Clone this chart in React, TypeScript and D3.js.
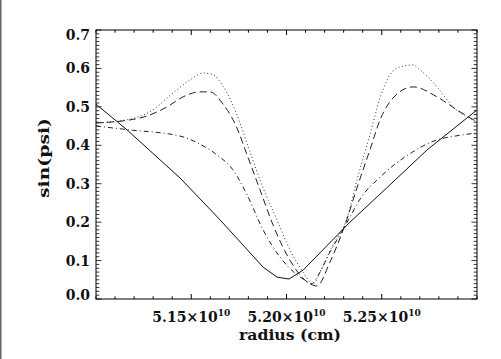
import * as d3 from "d3";

// radius in units of 1e10 cm, sin(psi) values
const solidR = [5.1, 5.1163, 5.1441, 5.1651, 5.1877, 5.195, 5.2013, 5.2087, 5.2333, 5.2543, 5.2738, 5.3];
const solidV = [0.507, 0.44, 0.315, 0.206, 0.083, 0.057, 0.052, 0.075, 0.2, 0.297, 0.388, 0.492];

const dottedR = [5.1, 5.1178, 5.1283, 5.1404, 5.1493, 5.1562, 5.1609, 5.1667, 5.174, 5.1808, 5.1877, 5.195, 5.2018, 5.2087, 5.2139,
  5.2192, 5.2244, 5.2318, 5.237, 5.2438, 5.2491, 5.2543, 5.2596, 5.2664, 5.2701, 5.279, 5.2874, 5.3];
const dottedV = [0.458, 0.468, 0.487, 0.536, 0.57, 0.588, 0.585, 0.554, 0.479, 0.383, 0.289, 0.206, 0.128, 0.07, 0.039,
  0.088, 0.141, 0.211, 0.31, 0.427, 0.523, 0.583, 0.604, 0.609, 0.596, 0.552, 0.5, 0.461];

const dashedR = [5.1, 5.1231, 5.1373, 5.1457, 5.1546, 5.1598, 5.1667, 5.174, 5.1793, 5.1861, 5.1929, 5.2018, 5.2097, 5.216,
  5.2228, 5.2307, 5.2375, 5.2438, 5.2491, 5.2559, 5.2664, 5.279, 5.2895, 5.3];
const dashedV = [0.458, 0.471, 0.5, 0.526, 0.539, 0.539, 0.507, 0.445, 0.375, 0.284, 0.193, 0.101, 0.049, 0.034,
  0.096, 0.193, 0.297, 0.388, 0.466, 0.523, 0.552, 0.526, 0.492, 0.461];

const dashDotR = [5.1, 5.1178, 5.1441, 5.1546, 5.1635, 5.1719, 5.1793, 5.1877, 5.1966, 5.205, 5.2097, 5.2129,
  5.2176, 5.2228, 5.2281, 5.2333, 5.2386, 5.2491, 5.2638, 5.279, 5.2885, 5.3];
const dashDotV = [0.45, 0.44, 0.424, 0.403, 0.375, 0.336, 0.271, 0.18, 0.109, 0.065, 0.049, 0.039,
  0.07, 0.122, 0.167, 0.213, 0.26, 0.317, 0.375, 0.414, 0.424, 0.432];

const xMajorTicks = [5.15, 5.2, 5.25];
const yTicks = [0, 0.1, 0.2, 0.3, 0.4, 0.5, 0.6, 0.7];

const W = 501;
const H = 359;
const font = "'DejaVu Serif', serif";

export default function App() {
  const x = d3.scaleLinear().domain([5.1, 5.3]).range([96, 477]);
  const y = d3.scaleLinear().domain([0, 0.7]).range([299, 30]);

  const smooth = (rs: number[], vs: number[]) =>
    d3
      .line<number>()
      .x((_, i) => x(rs[i]))
      .y((v) => y(v))
      .curve(d3.curveMonotoneX)(vs) as string;

  const solidPath = d3
    .line<number>()
    .x((_, i) => x(solidR[i]))
    .y((v) => y(v))(solidV) as string;

  const xMinor = d3.range(0, 21).map((i) => 5.1 + i * 0.01);
  const yMinor = d3.range(0, 71).map((i) => i * 0.01);
  const [x0, x1] = x.range();
  const [y0, y1] = y.range();

  return (
    <svg width={W} height={H} style={{ position: "absolute", left: 0, top: 0, background: "#fff" }}>
      <rect x={0} y={0} width={1.5} height={H} fill="#666" />

      {/* frame */}
      <rect x={x0} y={y1} width={x1 - x0} height={y0 - y1} fill="none" stroke="#000" strokeWidth={1} />

      {/* x ticks, bottom and top */}
      {xMinor.map((t, i) => {
        const major = xMajorTicks.some((m) => Math.abs(m - t) < 1e-6);
        const len = major ? 5 : 2.7;
        const px = x(t);
        return (
          <g key={"xt" + i} stroke="#000" strokeWidth={1}>
            <line x1={px} x2={px} y1={y0} y2={y0 - len} />
            <line x1={px} x2={px} y1={y1} y2={y1 + len} />
          </g>
        );
      })}

      {/* y ticks, left and right */}
      {yMinor.map((t, i) => {
        const major = i % 10 === 0;
        const len = major ? 5.5 : 3.3;
        const py = y(t);
        return (
          <g key={"yt" + i} stroke="#000" strokeWidth={0.8}>
            <line x1={x0} x2={x0 + len} y1={py} y2={py} />
            <line x1={x1} x2={x1 - len} y1={py} y2={py} />
          </g>
        );
      })}

      {/* y tick labels */}
      {yTicks.map((t, i) => {
        const nudge = i === 0 ? -4 : i === yTicks.length - 1 ? 4.5 : 0;
        return (
          <text
            key={"yl" + i}
            x={90}
            y={y(t) + nudge}
            dy="0.36em"
            textAnchor="end"
            fontFamily={font}
            fontWeight="bold"
            fontSize={14}
            fill="#111"
          >
            {t.toFixed(1)}
          </text>
        );
      })}

      {/* x tick labels */}
      {xMajorTicks.map((t, i) => (
        <text
          key={"xl" + i}
          x={x(t)}
          y={322}
          textAnchor="middle"
          fontFamily={font}
          fontWeight="bold"
          fontSize={14}
          fill="#111"
        >
          {t.toFixed(2)}×10
          <tspan fontSize={9} dy={-6}>
            10
          </tspan>
        </text>
      ))}

      {/* axis titles */}
      <text
        x={290}
        y={340}
        textAnchor="middle"
        fontFamily={font}
        fontWeight="bold"
        fontSize={15}
        textLength={102}
        lengthAdjust="spacingAndGlyphs"
        fill="#111"
      >
        radius (cm)
      </text>
      <text
        transform="translate(49,158) rotate(-90)"
        textAnchor="middle"
        fontFamily={font}
        fontWeight="bold"
        fontSize={15}
        textLength={80}
        lengthAdjust="spacingAndGlyphs"
        fill="#111"
      >
        sin(psi)
      </text>

      {/* curves */}
      <g fill="none">
        <path d={solidPath} stroke="#111" strokeWidth={1} />
        <path d={smooth(dottedR, dottedV)} stroke="#333" strokeWidth={1} strokeDasharray="1 2.5" />
        <path d={smooth(dashedR, dashedV)} stroke="#222" strokeWidth={1} strokeDasharray="7 4" />
        <path d={smooth(dashDotR, dashDotV)} stroke="#222" strokeWidth={1} strokeDasharray="5 3 1 3" />
      </g>
    </svg>
  );
}
